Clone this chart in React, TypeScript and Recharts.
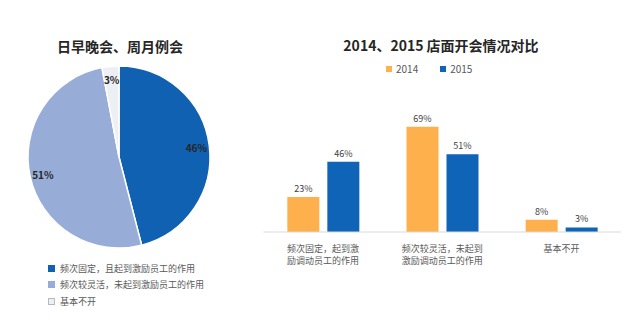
import { PieChart, Pie, Cell, BarChart, Bar, XAxis, YAxis, LabelList } from 'recharts';

const pieTitle = '日早晚会、周月例会';
const pieNames = ['频次固定，且起到激励员工的作用', '频次较灵活，未起到激励员工的作用', '基本不开'];
const pieValues = [46, 51, 3];
const pieColors = ['#1061b2', '#97add8', '#eceff4'];

const barTitle = '2014、2015 店面开会情况对比';
const categories = ['频次固定，起到激励调动员工的作用', '频次较灵活，未起到激励调动员工的作用', '基本不开'];
const categoryLines = [
  ['频次固定，起到激', '励调动员工的作用'],
  ['频次较灵活，未起到', '激励调动员工的作用'],
  ['基本不开'],
];
const series2014 = [23, 69, 8];
const series2015 = [46, 51, 3];
const seriesNames = ['2014', '2015'];
const barColors = ['#fdb04c', '#0f64b8'];

const FONT = '"Noto Sans CJK SC", "Liberation Sans", sans-serif';

const pieData = pieNames.map((name, i) => ({ name, value: pieValues[i] }));
const barData = categories.map((name, i) => ({
  name,
  y2014: series2014[i],
  y2015: series2015[i],
}));

const RAD = Math.PI / 180;

function renderPieLabel(props: any) {
  const { cx, cy, midAngle, value } = props;
  const r = 78;
  const x = cx + r * Math.cos(-midAngle * RAD);
  const y = cy + r * Math.sin(-midAngle * RAD);
  return (
    <text x={x} y={y} textAnchor="middle" dominantBaseline="central" fontSize={10} fontWeight="bold" fill="#262626" fontFamily={FONT}>
      {value}%
    </text>
  );
}

function CategoryTick(props: any) {
  const { x, y, index } = props;
  const lines = categoryLines[index] || [];
  return (
    <text x={x} y={y} textAnchor="middle" fontSize={9} fill="#595959" fontFamily={FONT}>
      {lines.map((l, i) => (
        <tspan key={i} x={x} dy={i === 0 ? 12 : 11.5}>
          {l}
        </tspan>
      ))}
    </text>
  );
}

export default function App() {
  return (
    <div style={{ position: 'absolute', left: 0, top: 0, width: 640, height: 335, background: '#fff', fontFamily: FONT }}>
      <div style={{ position: 'absolute', left: 0, width: 240, top: 36, textAlign: 'center', fontSize: 14, fontWeight: 'bold', color: '#262626' }}>
        {pieTitle}
      </div>
      <div style={{ position: 'absolute', left: 260, width: 362, top: 35, textAlign: 'center', fontSize: 14, fontWeight: 'bold', color: '#262626' }}>
        {barTitle}
      </div>

      <div style={{ position: 'absolute', left: 0, top: 0 }}>
        <PieChart width={240} height={335} margin={{ top: 0, right: 0, bottom: 0, left: 0 }}>
          <Pie
            data={pieData}
            dataKey="value"
            nameKey="name"
            cx={119}
            cy={157}
            outerRadius={91}
            startAngle={90}
            endAngle={-270}
            stroke="#ffffff"
            strokeWidth={1.5}
            label={renderPieLabel}
            labelLine={false}
            isAnimationActive={false}
          >
            {pieData.map((d, i) => (
              <Cell key={d.name} fill={pieColors[i]} />
            ))}
          </Pie>
        </PieChart>
      </div>

      <div style={{ position: 'absolute', left: 48, top: 260, fontSize: 9, color: '#595959' }}>
        {pieNames.map((n, i) => (
          <div key={n} style={{ display: 'flex', alignItems: 'center', height: 16.5 }}>
            <span
              style={{
                width: 7,
                height: 7,
                marginRight: 5,
                background: pieColors[i],
                border: i === 2 ? '1px solid #b8b8b8' : 'none',
                boxSizing: 'border-box',
              }}
            />
            {n}
          </div>
        ))}
      </div>

      <div style={{ position: 'absolute', left: 386, top: 61, display: 'flex', fontSize: 10, color: '#595959' }}>
        {seriesNames.map((n, i) => (
          <div key={n} style={{ display: 'flex', alignItems: 'center', marginRight: i === 0 ? 22 : 0 }}>
            <span style={{ width: 6, height: 6, marginRight: 4, background: barColors[i] }} />
            {n}
          </div>
        ))}
      </div>

      <div style={{ position: 'absolute', left: 260, top: 0 }}>
        <BarChart
          width={380}
          height={335}
          data={barData}
          margin={{ top: 110, right: 19, left: 3.5, bottom: 0 }}
          barGap={8}
          barCategoryGap="20%"
        >
          <XAxis
            dataKey="name"
            height={103}
            interval={0}
            tickLine={false}
            axisLine={{ stroke: '#d9d9d9' }}
            tick={CategoryTick}
          />
          <YAxis hide domain={[0, 80]} />
          <Bar dataKey="y2014" name={seriesNames[0]} fill={barColors[0]} isAnimationActive={false}>
            <LabelList dataKey="y2014" position="top" offset={5} formatter={(v: any) => `${v}%`} fontSize={9} fill="#404040" fontFamily={FONT} />
          </Bar>
          <Bar dataKey="y2015" name={seriesNames[1]} fill={barColors[1]} isAnimationActive={false}>
            <LabelList dataKey="y2015" position="top" offset={5} formatter={(v: any) => `${v}%`} fontSize={9} fill="#404040" fontFamily={FONT} />
          </Bar>
        </BarChart>
      </div>
    </div>
  );
}
